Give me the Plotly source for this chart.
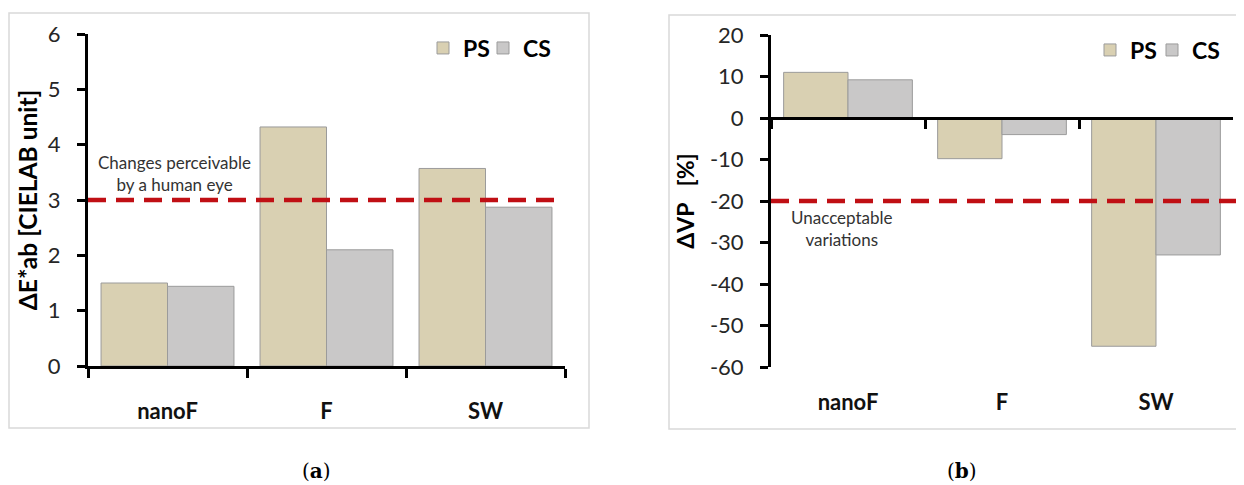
import plotly.graph_objects as go

# ---- data ----
categories = ["nanoF", "F", "SW"]
series_names = ["PS", "CS"]
dE_PS = [1.50, 4.32, 3.57]
dE_CS = [1.44, 2.10, 2.87]
dVP_PS = [11.0, -9.8, -55.0]
dVP_CS = [9.2, -4.0, -33.0]
threshold_a = 3
threshold_b = -20
range_a = [0, 6]
range_b = [-60, 20]
ticks_a = [0, 1, 2, 3, 4, 5, 6]
ticks_b = [-60, -50, -40, -30, -20, -10, 0, 10, 20]
panel_labels = ["a", "b"]

PS_COLOR = "#d9d0b2"
CS_COLOR = "#c9c8c8"
EDGE = "#9b9b9b"
RED = "#c00f14"
FONT = "Lato"

# page body has an 8px margin; size the figure so the page fits the window
OFF = 8
W, H = 1244 - OFF, 485 - OFF
# plot area pixel boxes (window coordinates)
A_X = (88, 565); A_Y = (34, 366)
B_X = (771, 1233); B_Y = (35, 367)

def px(x):
    return (x - OFF) / W

def py(y):
    return 1 - (y - OFF) / H

def dom_x(p):
    return [px(p[0]), px(p[1])]

def dom_y(p):
    return [py(p[1]), py(p[0])]

legend_ids = {("a", "PS"): "legend", ("a", "CS"): "legend3", ("b", "PS"): "legend2", ("b", "CS"): "legend4"}

fig = go.Figure()
for name, vals, col in zip(series_names, [dE_PS, dE_CS], [PS_COLOR, CS_COLOR]):
    fig.add_trace(go.Bar(x=categories, y=vals, name=name, marker=dict(color=col, line=dict(color=EDGE, width=1)),
                         xaxis="x", yaxis="y", legend=legend_ids[("a", name)]))
for name, vals, col in zip(series_names, [dVP_PS, dVP_CS], [PS_COLOR, CS_COLOR]):
    fig.add_trace(go.Bar(x=categories, y=vals, name=name, marker=dict(color=col, line=dict(color=EDGE, width=1)),
                         xaxis="x2", yaxis="y2", legend=legend_ids[("b", name)]))
# invisible helper trace for the zero-line category axis of panel b
fig.add_trace(go.Scatter(x=categories, y=[0] * len(categories), mode="markers", marker=dict(opacity=0),
                         xaxis="x3", yaxis="y2", showlegend=False, hoverinfo="skip"))

ydom_b = dom_y(B_Y)
zero_pos = ydom_b[0] + (0 - range_b[0]) / (range_b[1] - range_b[0]) * (ydom_b[1] - ydom_b[0])

tickfont = dict(family=FONT, size=22, color="#262626")
catfont = dict(family=FONT, size=22, color="#111111", weight="bold")
common_x = dict(type="category", categoryorder="array", categoryarray=categories, range=[-0.5, 2.5],
                showgrid=False, zeroline=False, tickfont=catfont, automargin=False)
legfont = dict(family=FONT, size=23, color="black", weight="bold")
common_y = dict(showgrid=False, zeroline=False, automargin=False, showline=True, linecolor="black",
                linewidth=3, ticks="outside", ticklen=8, tickwidth=2.5, tickcolor="black", tickfont=tickfont,
                tickmode="array", ticklabelstandoff=12)

def leg(text_x, y):
    return dict(orientation="h", x=px(text_x - 41), xanchor="left", y=py(y), yanchor="middle",
                font=legfont, bgcolor="rgba(0,0,0,0)", tracegroupgap=0)

fig.update_layout(
    width=W, height=H, margin=dict(l=0, r=0, t=0, b=0, autoexpand=False),
    paper_bgcolor="white", plot_bgcolor="white",
    font=dict(family=FONT), barmode="group", bargap=0.164, bargroupgap=0,
    xaxis=dict(domain=dom_x(A_X), anchor="y", showline=True, linecolor="black", linewidth=3,
               ticks="outside", tickson="boundaries", ticklen=9, tickwidth=2.5, tickcolor="black",
               ticklabelstandoff=24, **common_x),
    yaxis=dict(domain=dom_y(A_Y), anchor="x", range=range_a, tickvals=ticks_a,
               ticktext=[str(v) for v in ticks_a], **common_y,
               title=dict(text="ΔE*ab [CIELAB unit]", font=dict(family=FONT, size=24.5, color="black", weight="bold"),
                          standoff=4)),
    xaxis2=dict(domain=dom_x(B_X), anchor="y2", showline=False, ticks="", ticklabelstandoff=20, **common_x),
    xaxis3=dict(domain=dom_x(B_X), overlaying="x2", anchor="free", position=zero_pos,
                type="category", categoryorder="array", categoryarray=categories, range=[-0.5, 2.5],
                showgrid=False, zeroline=False, showline=True, linecolor="black", linewidth=3,
                ticks="outside", tickson="boundaries", ticklen=9, tickwidth=2.5, tickcolor="black",
                showticklabels=False, automargin=False),
    yaxis2=dict(domain=ydom_b, anchor="x2", range=range_b, tickvals=ticks_b,
                ticktext=[str(v) for v in ticks_b], **common_y,
                title=dict(text="ΔVP\u00a0\u00a0\u00a0[%]", font=dict(family=FONT, size=23, color="black", weight="bold"),
                           standoff=9)),
    legend=leg(464, 48), legend3=leg(524, 48),
    legend2=leg(1131, 50), legend4=leg(1193, 50),
    showlegend=True,
)

# panel frames
fig.add_shape(type="rect", xref="paper", yref="paper", x0=px(9), x1=px(589), y0=py(428), y1=py(13),
              line=dict(color="#d9d9d9", width=1.5), layer="below")
fig.add_shape(type="rect", xref="paper", yref="paper", x0=px(669), x1=1.01, y0=py(429), y1=py(15),
              line=dict(color="#d9d9d9", width=1.5), layer="below")

# threshold lines
fig.add_shape(type="line", xref="x domain", yref="y", x0=0, x1=0.993, y0=threshold_a, y1=threshold_a,
              line=dict(color=RED, width=4.5, dash="18px,10px"))
fig.add_shape(type="line", xref="x2 domain", yref="y2", x0=0, x1=1.03, y0=threshold_b, y1=threshold_b,
              line=dict(color=RED, width=4.5, dash="18px,10px"))

fig.add_annotation(text="Changes perceivable<br>by a human eye", xref="x domain", yref="y domain",
                   x=(174 - A_X[0]) / (A_X[1] - A_X[0]), y=(A_Y[1] - 174) / (A_Y[1] - A_Y[0]),
                   xanchor="center", yanchor="middle",
                   showarrow=False, font=dict(family=FONT, size=17, color="#333333"), align="center")
fig.add_annotation(text="Unacceptable<br>variations", xref="x2 domain", yref="y2 domain",
                   x=(842 - B_X[0]) / (B_X[1] - B_X[0]), y=(B_Y[1] - 228) / (B_Y[1] - B_Y[0]),
                   xanchor="center", yanchor="middle",
                   showarrow=False, font=dict(family=FONT, size=17, color="#333333"), align="center")

for lab, cx in zip(panel_labels, [316, 962]):
    fig.add_annotation(text=f"(<b>{lab}</b>)", xref="paper", yref="paper", x=px(cx), y=py(471),
                       xanchor="center", yanchor="middle",
                       showarrow=False, font=dict(family="DejaVu Serif", size=20, color="black"))

fig.write_html("out.html")
